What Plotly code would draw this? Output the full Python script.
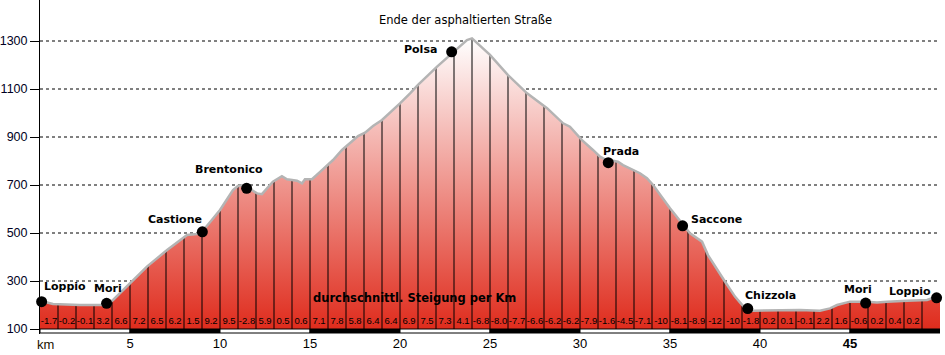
import numpy as np
import plotly.graph_objects as go

# ---------------- data ----------------
profile_km = [0.0, 0.72, 1.1, 2.2, 3.5, 3.78, 4.06, 5.0, 5.94, 7.06, 7.94, 8.17, 8.72, 9.0, 9.44,
              10.0, 10.72, 11.0, 11.33, 11.72, 12.06, 12.33, 12.94, 13.44, 13.72, 14.28, 14.56, 14.72,
              15.11, 15.56, 16.0, 16.28, 16.78, 17.22, 17.67, 18.06, 18.5, 19.0, 19.44, 20.0, 20.56,
              21.0, 22.06, 22.89, 23.72, 24.0, 25.0, 26.0, 27.06, 28.17, 29.06, 29.44, 29.83, 30.11,
              30.72, 31.11, 31.39, 32.11, 32.39, 32.94, 33.33, 33.72, 34.06, 35.0, 35.72, 36.11, 36.78,
              37.11, 38.06, 38.61, 39.17, 39.61, 42.22, 43.33, 43.89, 44.28, 45.0, 45.94, 46.5, 47.06,
              48.17, 49.28, 49.83, 50.0]
profile_elev = [218, 204, 203, 200, 200, 206, 221, 292, 360, 429, 482, 492, 496, 505, 545,
                596, 679, 696, 700, 680, 665, 662, 714, 737, 724, 718, 707, 724,
                724, 755, 787, 804, 846, 874, 904, 918, 946, 971, 1001, 1040, 1082,
                1117, 1193, 1249, 1304, 1311, 1242, 1158, 1082, 1020, 957, 943, 908, 887,
                846, 818, 807, 797, 783, 762, 749, 728, 700, 603, 533, 499, 464,
                408, 297, 235, 186, 176, 179, 176, 186, 200, 214, 214, 210, 214,
                218, 221, 235, 235]

slope_labels = ["-1.7", "-0.2", "-0.1", "3.2", "6.6", "7.2", "6.5", "6.2", "1.5", "9.2",
                "9.5", "-2.8", "5.9", "0.5", "0.6", "7.1", "7.8", "5.8", "6.4", "6.4",
                "6.9", "7.5", "7.3", "4.1", "-6.8", "-8.0", "-7.7", "-6.6", "-6.2", "-6.2",
                "-7.9", "-1.6", "-4.5", "-7.1", "-10", "-8.1", "-8.9", "-12", "-10", "-1.8",
                "0.2", "0.1", "-0.1", "2.2", "1.6", "-0.6", "0.2", "0.4", "0.2"]

place_names = ["Loppio", "Mori", "Castione", "Brentonico", "Polsa", "Prada",
               "Saccone", "Chizzola", "Mori", "Loppio"]
place_km = [0.09, 3.7, 9.02, 11.48, 22.87, 31.57, 35.7, 39.32, 45.87, 49.81]
place_elev = [214, 207, 505, 686, 1255, 793, 530, 185, 208, 230]

x_tick_vals = [5, 10, 15, 20, 25, 30, 35, 40, 45]
x_tick_text = ["5", "10", "15", "20", "25", "30", "35", "40", "<b>45</b>"]
y_tick_vals = [100, 300, 500, 700, 900, 1100, 1300]
grid_vals = [300, 500, 700, 900, 1100, 1300]

# ---------------- styling ----------------
BASE = 100
X_MAX = 50
PX_PER_M = 0.24
Y_BOTTOM = BASE - 5 / PX_PER_M
Y_TOP = BASE + 329 / PX_PER_M
BAR_H = 4 / PX_PER_M
PLOT_H = 334
RED = "#df2c1d"
LABEL_FONT = dict(family="DejaVu Sans", size=11, color="#000000")
# label offsets (px) relative to dots: (xshift, yshift)
label_offsets = [(23, 15), (1, 15), (-27, 12), (-18, 19), (-31, 2), (13, 11),
                 (34, 6), (23, 13), (-8, 14), (-27, 6)]

fig = go.Figure()

# filled profile (gradient)
poly_x = [0.0] + profile_km + [profile_km[-1], 0.0]
poly_y = [BASE] + profile_elev + [BASE, BASE]
fig.add_trace(go.Scatter(
    x=poly_x, y=poly_y, mode="lines", fill="toself",
    line=dict(width=0, color="rgba(0,0,0,0)"),
    fillgradient=dict(type="vertical", start=BASE, stop=max(profile_elev),
                      colorscale=[[0, RED], [1, "#ffffff"]]),
    hoverinfo="skip", showlegend=False))

# km verticals
km_marks = np.arange(1, len(slope_labels) + 1)
tops = np.interp(km_marks, profile_km, profile_elev)
vx, vy = [], []
for k, t in zip(km_marks, tops):
    vx += [k, k, None]
    vy += [BASE, t, None]
fig.add_trace(go.Scatter(x=vx, y=vy, mode="lines", line=dict(color="black", width=1),
                         hoverinfo="skip", showlegend=False))

# outline
fig.add_trace(go.Scatter(x=profile_km, y=profile_elev, mode="lines",
                         line=dict(color="#b4b4b4", width=2.5),
                         hoverinfo="skip", showlegend=False))

# slope labels
fig.add_trace(go.Scatter(
    x=np.arange(len(slope_labels)) + 0.5, y=[BASE + 7 / PX_PER_M] * len(slope_labels),
    mode="text", text=slope_labels,
    textfont=dict(family="Liberation Sans", size=9.5, color="#000000"),
    hoverinfo="skip", showlegend=False, cliponaxis=False))

# places
fig.add_trace(go.Scatter(x=place_km, y=place_elev, mode="markers",
                         marker=dict(color="black", size=11),
                         hoverinfo="skip", showlegend=False, cliponaxis=False))
for name, xk, ye, (dx, dy) in zip(place_names, place_km, place_elev, label_offsets):
    fig.add_annotation(x=xk, y=ye, text="<b>%s</b>" % name, showarrow=False,
                       xshift=dx, yshift=dy, font=LABEL_FONT,
                       xanchor="center", yanchor="middle")

# grid lines
for g in grid_vals:
    fig.add_shape(type="line", x0=0, x1=X_MAX, y0=g, y1=g, layer="below",
                  line=dict(color="black", width=1, dash="3px,3px"))

# km scale bar
for i in range(0, X_MAX, 5):
    black = (i // 5) % 2 == 1
    fig.add_shape(type="rect", x0=i, x1=i + 5, y0=BASE - BAR_H, y1=BASE,
                  fillcolor="black" if black else "white",
                  line=dict(color="black", width=1), layer="above")

fig.add_annotation(x=23.64, y=BASE + 309 / PX_PER_M, text="Ende der asphaltierten Straße",
                   showarrow=False, font=dict(family="DejaVu Sans", size=11.5, color="black"))
fig.add_annotation(x=20.8, y=BASE + 31 / PX_PER_M, text="<b>durchschnittl. Steigung per Km</b>",
                   showarrow=False, font=dict(family="DejaVu Sans", size=11.5, color="black"))
fig.add_annotation(x=0.28, xref="x", y=-10.5 / PLOT_H, yref="paper", text="km",
                   showarrow=False, yanchor="middle",
                   font=dict(family="Liberation Sans", size=13, color="#221100"))

fig.update_layout(
    width=945, height=355,
    margin=dict(l=40, r=5, t=0, b=355 - PLOT_H),
    paper_bgcolor="white", plot_bgcolor="white",
    showlegend=False,
    xaxis=dict(range=[0, X_MAX], showgrid=False, zeroline=False, showline=False,
               automargin=False,
               tickvals=x_tick_vals, ticktext=x_tick_text, ticks="",
               tickfont=dict(family="Liberation Sans", size=13, color="black")),
    yaxis=dict(range=[Y_BOTTOM, Y_TOP], showgrid=False, zeroline=False,
               automargin=False,
               showline=True, linecolor="black", linewidth=1,
               tickvals=y_tick_vals, ticks="outside", ticklen=9, tickcolor="black",
               tickfont=dict(family="Liberation Sans", size=12.5, color="#000022")),
)

fig.write_html("out.html", config={"displayModeBar": False},
               post_script="document.body.style.margin='0px';document.body.style.overflow='hidden';")
